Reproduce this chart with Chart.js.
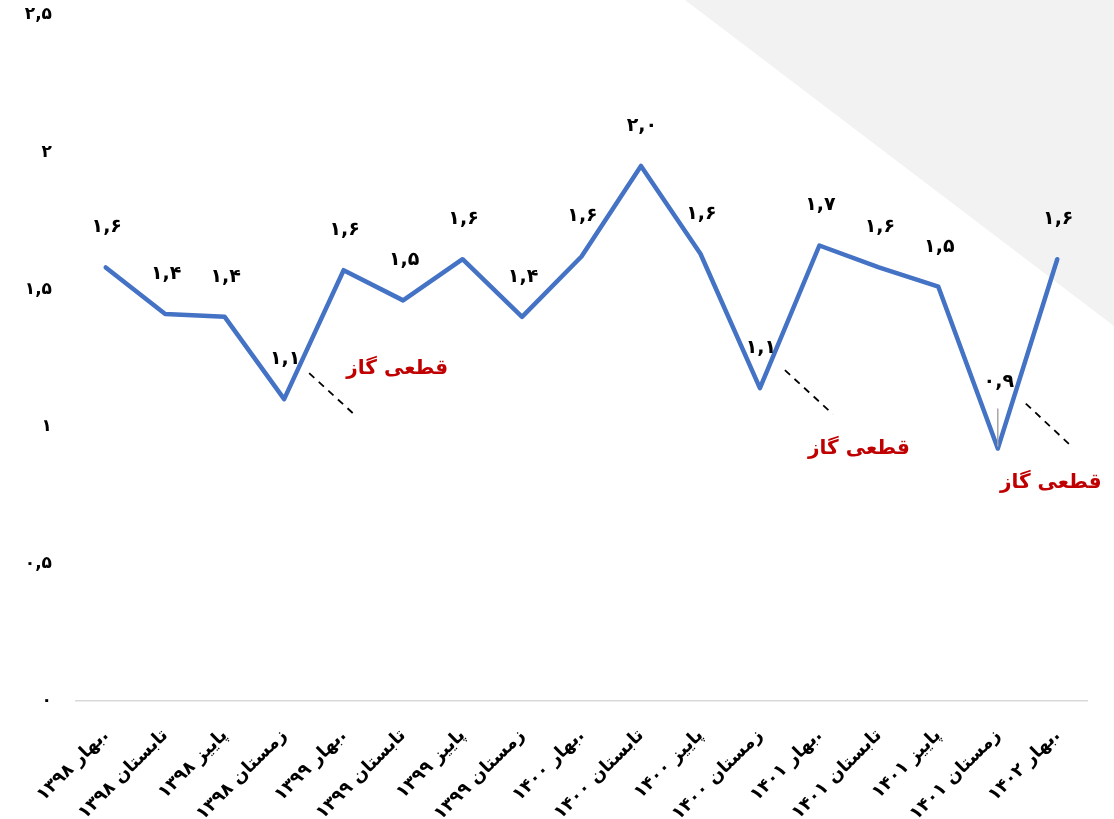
<!DOCTYPE html>
<html><head><meta charset="utf-8">
<script src="https://cdn.jsdelivr.net/npm/chart.js@4.4.1/dist/chart.umd.min.js"></script>
<style>html,body{margin:0;padding:0;background:#fff;}#wrap{width:1114px;height:819px;position:relative;}</style>
</head><body><div id="wrap"><canvas id="c"></canvas></div>
<script>
const categories = ["بهار ۱۳۹۸.", "تابستان ۱۳۹۸", "پاییز ۱۳۹۸", "زمستان ۱۳۹۸", "بهار ۱۳۹۹.", "تابستان ۱۳۹۹", "پاییز ۱۳۹۹", "زمستان ۱۳۹۹", "بهار ۱۴۰۰.", "تابستان ۱۴۰۰", "پاییز ۱۴۰۰", "زمستان ۱۴۰۰", "بهار ۱۴۰۱.", "تابستان ۱۴۰۱", "پاییز ۱۴۰۱", "زمستان ۱۴۰۱", "بهار ۱۴۰۲."];
const values = [1.58, 1.41, 1.40, 1.10, 1.57, 1.46, 1.61, 1.40, 1.62, 1.95, 1.63, 1.14, 1.66, 1.58, 1.51, 0.92, 1.61];
const yTickLabels = ["۰", "۰,۵", "۱", "۱,۵", "۲", "۲,۵"];
const gasCutIndices = [3, 11, 15];
const gasCutText = "قطعی گاز";

const FONT = "'DejaVu Sans', sans-serif";
function toFa(s){ return String(s).replace(/[0-9]/g, d => "۰۱۲۳۴۵۶۷۸۹"[d]).replace('.', ','); }

// annotation layout (relative to the data point)
const cutLayout = {
  3:  {line:[25,-26,72,17],  text:[113,-30]},
  11: {line:[25,-18,73,26],  text:[99,61]},
  15: {line:[28,-45,75,-1],  text:[53,34], leader:true}
};

const bgPlugin = {
  id:'bg',
  beforeDraw(chart){
    const ctx = chart.ctx, w = chart.width, h = chart.height;
    ctx.save();
    ctx.fillStyle = '#fff'; ctx.fillRect(0,0,w,h);
    ctx.fillStyle = '#f2f2f2';
    ctx.beginPath(); ctx.moveTo(685,0); ctx.lineTo(w,0); ctx.lineTo(w,326); ctx.closePath(); ctx.fill();
    ctx.restore();
  }
};

const labelPlugin = {
  id:'labels',
  afterDatasetsDraw(chart){
    const ctx = chart.ctx;
    const meta = chart.getDatasetMeta(0);
    ctx.save();
    gasCutIndices.forEach(i => {
      const p = meta.data[i], L = cutLayout[i];
      ctx.strokeStyle = '#000'; ctx.lineWidth = 1.8; ctx.setLineDash([7,6]);
      ctx.beginPath(); ctx.moveTo(p.x+L.line[0], p.y+L.line[1]); ctx.lineTo(p.x+L.line[2], p.y+L.line[3]); ctx.stroke();
      ctx.setLineDash([]);
      if (L.leader){
        ctx.strokeStyle = '#a6a6a6'; ctx.lineWidth = 1.5;
        ctx.beginPath(); ctx.moveTo(p.x, p.y-40); ctx.lineTo(p.x, p.y-2); ctx.stroke();
      }
      ctx.fillStyle = '#c00000'; ctx.font = 'bold 20px ' + FONT;
      ctx.textAlign = 'center'; ctx.textBaseline = 'middle';
      ctx.fillText(gasCutText, p.x+L.text[0], p.y+L.text[1]);
    });
    ctx.fillStyle = '#000'; ctx.font = 'bold 19px ' + FONT;
    ctx.textAlign = 'center'; ctx.textBaseline = 'middle';
    meta.data.forEach((p, i) => {
      const v = (Math.round(values[i]*10)/10).toFixed(1);
      const dy = (i === 15) ? -66 : -40;
      ctx.fillText(toFa(v), p.x + 1, p.y + dy);
    });
    ctx.restore();
  }
};

new Chart(document.getElementById('c'), {
  type:'line',
  data:{labels:categories, datasets:[{data:values, borderColor:'#4472c4', borderWidth:4.5, pointRadius:0, tension:0, borderJoinStyle:'round', borderCapStyle:'round', fill:false}]},
  options:{
    responsive:true, maintainAspectRatio:false, animation:false,
    layout:{padding:{top:15, right:27, left:0, bottom:0}},
    plugins:{legend:{display:false}, tooltip:{enabled:false}},
    scales:{
      x:{
        offset:true,
        grid:{display:false, drawTicks:false},
        border:{display:true, color:'#d9d9d9', width:1.5},
        ticks:{color:'#000', font:{family:FONT, size:18, weight:'bold'}, minRotation:45, maxRotation:45, padding:24, autoSkip:false},
        afterFit(s){ s.height = 118; s.paddingLeft = 0; s.paddingRight = 0; }
      },
      y:{
        min:0, max:2.5,
        grid:{display:false, drawTicks:false},
        border:{display:false},
        ticks:{stepSize:0.5, color:'#000', font:{family:FONT, size:17, weight:'bold'}, padding:24,
          callback(v, i){ return yTickLabels[i]; }},
        afterFit(s){ s.width = 76; s.paddingTop = 0; s.paddingBottom = 0; }
      }
    }
  },
  plugins:[bgPlugin, labelPlugin]
});
</script></body></html>
